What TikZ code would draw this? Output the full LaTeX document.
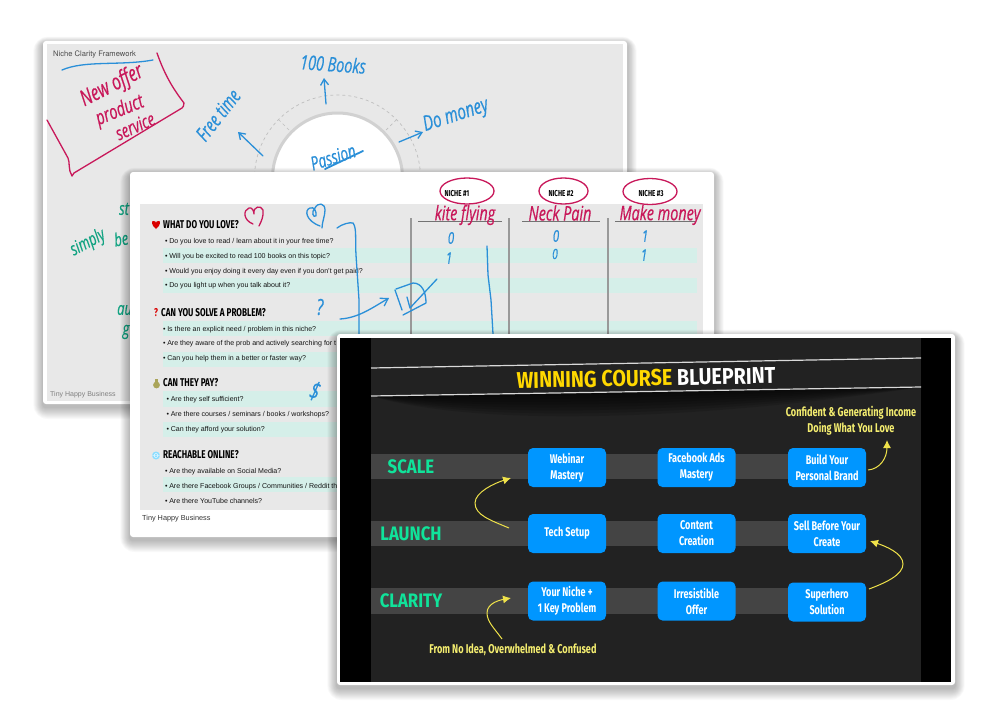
\documentclass[tikz,border=0pt]{standalone}
\usepackage{fontspec}
\usetikzlibrary{arrows.meta}
\setmainfont{Latin Modern Roman}
\newfontfamily\body{Liberation Sans}
\newfontfamily\cond[FakeStretch=0.72]{Fira Sans}
\newfontfamily\wide[FakeStretch=0.86]{Fira Sans}
\newfontfamily\handf[FakeStretch=0.72,FakeBold=0.5]{Open Sans}
\definecolor{penblue}{HTML}{2A8FD8}
\definecolor{penred}{HTML}{C8185A}
\definecolor{pengreen}{HTML}{12A382}
\definecolor{sheet}{HTML}{E8E8E8}
\definecolor{tealrow}{HTML}{D5EFE9}
\definecolor{slide}{HTML}{222222}
\definecolor{bandgrey}{HTML}{444444}
\definecolor{stepblue}{HTML}{0096FF}
\definecolor{levelgreen}{HTML}{10E39A}
\definecolor{noteyellow}{HTML}{F5EE70}
\definecolor{arrowyellow}{HTML}{EFE24A}
\definecolor{titleyellow}{HTML}{FFD800}
\newcommand{\softshadow}[4]{%
  \foreach \s in {1,...,12}{
    \fill[black,opacity=.022,rounded corners={\s+2}] ({#1-\s*.8},{#2-\s*.6+3}) rectangle ({#3+\s*.8},{#4+\s+3});
  }}
\newcommand{\qrow}[3]{\node[qtext] (q#2) at (#1,#2+.8) {•\kern1.6pt #3};}
\tikzset{
  x=1pt,y=-1pt,
  card/.style={fill=white,rounded corners=3},
  qtext/.style={anchor=west,inner sep=0,font=\body\fontsize{7.05}{8}\selectfont,text=black!92},
  head/.style={anchor=west,inner sep=0,font=\cond\bfseries\fontsize{11.3}{12}\selectfont,text=black},
  hand/.style={inner sep=0,font=\handf\itshape\fontsize{#1}{#1}\selectfont},
  hand/.default=18,
  ink/.style={line width=1.3,line cap=round,line join=round},
  blueink/.style={ink,draw=penblue},
  redink/.style={ink,draw=penred},
  stepbox/.style={fill=stepblue,rounded corners=5,minimum width=78,minimum height=39,inner sep=0,text=white,align=center,font=\cond\bfseries\fontsize{12.6}{16}\selectfont},
  level/.style={inner sep=0,text=levelgreen,font=\wide\bfseries\fontsize{19.5}{19}\selectfont},
  note/.style={inner sep=0,text=noteyellow,align=center,font=\cond\bfseries\fontsize{12.7}{16}\selectfont},
  yarrow/.style={draw=arrowyellow,line width=1,-{Latex[length=8,width=8]}},
  nichelabel/.style={inner sep=0,font=\cond\bfseries\fontsize{8.6}{9}\selectfont},
  column/.style={draw=black!40,line width=1.4},
  rule/.style={draw=black!55,line width=1},
}
\begin{document}
\begin{tikzpicture}
\useasboundingbox (0,0) rectangle (1000,709);
\fill[white] (0,0) rectangle (1000,709);

% ---------- first sheet
\softshadow{43}{41}{627}{404}
\fill[card] (43,41) rectangle (627,404);
\fill[sheet] (47,44) rectangle (623,401);
\node[anchor=west,inner sep=0,font=\fontspec{TeX Gyre Heros}\fontsize{7.6}{8}\selectfont,text=black!70] (fwtitle) at (53,54) {Niche Clarity Framework};
\node[anchor=west,inner sep=0,font=\body\fontsize{7}{8}\selectfont,text=black!50] (fwfoot) at (50,395) {Tiny Happy Business};
\draw[black!25,dashed,line width=.7] (337.5,178) circle (83);
\draw[black!25,dashed,line width=.7] (289,130) -- (278,119) (386,130) -- (397,119);
\fill[white,draw=black!18,line width=3] (337.5,178) circle (65);
\draw[blueink] (62,70) .. controls (85,60) and (120,66) .. (153,60);
\draw[penred,ink,line width=1.3] (157,53) .. controls (163,70) and (170,85) .. (184,103) .. controls (184,106) and (183,107) .. (182,108) -- (74,173) -- (72,176) .. controls (68,170) and (70,162) .. (68,158) -- (47,120);
\node[hand=22,text=penred,rotate=27] (h1) at (112,86) {New offer};
\node[hand=20,text=penred,rotate=22] (h2) at (120,111) {product};
\node[hand=19,text=penred,rotate=24] (h3) at (135,126) {service};
\node[hand=20,text=penblue,rotate=52] (h4) at (218,115) {Free time};
\node[hand=20,text=penblue,rotate=-4] (h5) at (333,64) {100 Books};
\node[hand=21,text=penblue,rotate=18] (h6) at (456,116) {Do money};
\node[hand=19,text=penblue,rotate=18] (h7) at (333,157) {Passion};
\draw[penblue,line width=1.8,line cap=round] (325,169) -- (363,151);
\coordinate (a1s) at (263,156); \coordinate (a1e) at (238,132);
\coordinate (a2s) at (326,104); \coordinate (a2e) at (324,78);
\coordinate (a3s) at (399,142); \coordinate (a3e) at (423,132);
\draw[blueink,-{Straight Barb[length=6,width=8]}] (a1s) -- (a1e);
\draw[blueink,-{Straight Barb[length=6,width=8]}] (a2s) -- (a2e);
\draw[blueink,-{Straight Barb[length=6,width=8]}] (a3s) -- (a3e);
\node[hand=18,text=pengreen,rotate=28] (g1) at (88,243) {simply};
\node[hand=18,text=pengreen,anchor=west,rotate=10] (g2) at (114,240) {be};
\node[hand=18,text=pengreen] (g3) at (124,209) {st};
\node[hand=18,text=pengreen,anchor=west] (g4) at (117,310) {au};
\node[hand=18,text=pengreen] (g5) at (126,332) {g};

% ---------- second sheet
\softshadow{130}{172}{714}{537}
\fill[card] (130,172) rectangle (714,537);
\fill[sheet] (140,204) rectangle (703,510);
\foreach \a/\b in {248/263,278/293,321/336,352/367,391/407,422/437,477/492}{
  \fill[tealrow] (163,\a) rectangle (697,\b);
}
\foreach \c in {411,509,608}{ \draw[column] (\c,218) -- (\c,340); }
\draw[rule] (418,221) -- (502,221);
\draw[rule] (522,221) -- (600,221);
\draw[rule] (615,221) -- (695,221);
\node[nichelabel] (n1) at (457,194) {NICHE \#1};
\node[nichelabel] (n2) at (561,194) {NICHE \#2};
\node[nichelabel] (n3) at (651,194) {NICHE \#3};
\draw[redink] (467,191) ellipse (27 and 13);
\draw[redink] (563.5,191) ellipse (24.5 and 13);
\draw[redink] (650,191.5) ellipse (27 and 13);
\node[hand=20,text=penred] (k1) at (465,215) {kite flying};
\node[hand=20,text=penred] (k2) at (560,213) {Neck Pain};
\node[hand=20,text=penred] (k3) at (660,215) {Make money};

\fill[red!85!black] (156,229) .. controls (151,225) and (151.5,221) .. (153,221) .. controls (155,220.5) and (156,222) .. (156,223) .. controls (156,222) and (157,220.5) .. (159,221) .. controls (160.5,221) and (161,225) .. (156,229) -- cycle;
\node[head] (s1) at (163,225) {WHAT DO YOU LOVE?};
\qrow{165}{241}{Do you love to read / learn about it in your free time?}
\qrow{165}{256}{Will you be excited to read 100 books on this topic?}
\qrow{165}{271}{Would you enjoy doing it every day even if you don’t get paid?}
\qrow{165}{285}{Do you light up when you talk about it?}
\node[head,text=red!85!black] (s2q) at (154,313) {?};
\node[head] (s2) at (161,313) {CAN YOU SOLVE A PROBLEM?};
\qrow{163}{329}{Is there an explicit need / problem in this niche?}
\qrow{163}{343}{Are they aware of the prob and actively searching for t}
\qrow{163}{358}{Can you help them in a better or faster way?}
\fill[yellow!55!black!85] (156.5,385) circle (3.4);
\fill[yellow!55!black!85] (155,378.5) rectangle (158,382);
\node[head] (s3) at (163,383) {CAN THEY PAY?};
\qrow{166.5}{399}{Are they self sufficient?}
\qrow{166.5}{414}{Are there courses / seminars / books / workshops?}
\qrow{166.5}{429}{Can they afford your solution?}
\fill[blue!30!cyan!45] (156,455.5) circle (4);
\draw[white,line width=.4] (156,455.5) circle (2) (152,455.5) -- (160,455.5);
\node[head] (s4) at (163,455) {REACHABLE ONLINE?};
\qrow{165}{471}{Are they available on Social Media?}
\qrow{165}{486}{Are there Facebook Groups / Communities / Reddit th}
\qrow{165}{500}{Are there YouTube channels?}
\node[anchor=west,inner sep=0,font=\body\fontsize{7.3}{8}\selectfont,text=black!80] (foot2) at (142,519) {Tiny Happy Business};

% ink on second sheet
\draw[redink] (253,224) .. controls (243,220) and (243,210) .. (249,208) .. controls (252,207) and (254,211) .. (254,214) .. controls (253,206) and (261,205) .. (263,210) .. controls (264,216) and (261,222) .. (259,226);
\draw[blueink] (320,226) .. controls (306,221) and (304,210) .. (310,208) .. controls (314,206) and (317,212) .. (316,216) .. controls (313,218) and (311,212) .. (315,208) .. controls (318,202) and (325,203) .. (325,210) .. controls (325,216) and (322,222) .. (322,228);
\draw[blueink] (337,228) .. controls (342,224) and (350,222) .. (353,223) .. controls (357,228) and (355,240) .. (356,255) -- (359,300) -- (359,336);
\draw[blueink] (487,246) -- (488,275) -- (491,300) -- (493,334);
\node[hand=22,text=penblue] (qm) at (320,307) {?};
\coordinate (a4s) at (340,319); \coordinate (a4e) at (389,298);
\draw[blueink,-{Straight Barb[length=7,width=9]}] (a4s) .. controls (358,318) and (372,308) .. (a4e);
\draw[blueink] (396,289) -- (413,283) .. controls (422,283) and (426,292) .. (426,303) -- (403,315);
\draw[blueink] (395,290) -- (402,310) (407,297) -- (410,308) -- (437,279);
\node[hand=24,text=penblue,rotate=-15] (dl) at (315,391) {\$};
\node[hand=16,text=penblue] (z1) at (451,238) {0};
\node[hand=16,text=penblue] (z2) at (449,258) {1};
\node[hand=16,text=penblue] (z3) at (556,236) {0};
\node[hand=14,text=penblue] (z4) at (555,254) {0};
\node[hand=16,text=penblue] (z5) at (645,236) {1};
\node[hand=16,text=penblue] (z6) at (644,255) {1};

% ---------- slide
\softshadow{337}{334}{955}{685}
\fill[card] (337,334) rectangle (955,685);
\fill[black] (340,338) rectangle (951,682);
\fill[slide] (371,338) rectangle (921,682);
\foreach \d in {4,8,12,16,20,24,28,32}{
  \fill[black,opacity=.13] (371,396) .. controls (480,{396+\d}) and (700,{388+\d}) .. (921,387) -- cycle;
}
\draw[black!15,line width=1.2] (371,368) -- (921,358);
\draw[black!15,line width=1.2] (371,396) -- (921,387);
\foreach \a/\b in {454/479,521/546,588/614}{
  \fill[bandgrey] (371,\a) rectangle (788,\b);
}
\node[inner sep=0,rotate=1.1,font=\wide\bfseries\fontsize{22.9}{23}\selectfont] (title) at (646,378) {\textcolor{titleyellow}{WINNING COURSE} \textcolor{white}{BLUEPRINT}};
\node[level] (lscale) at (411,467) {SCALE};
\node[level] (llaunch) at (411,534) {LAUNCH};
\node[level] (lclarity) at (411,601) {CLARITY};
\node[stepbox] (b11) at (567,467.5) {Webinar\\Mastery};
\node[stepbox] (b12) at (696.5,467.5) {Facebook Ads\\Mastery};
\node[stepbox] (b13) at (827,467.5) {Build Your\\Personal Brand};
\node[stepbox] (b21) at (567,533.5) {\raisebox{-1pt}{Tech Setup}};
\node[stepbox] (b22) at (696.5,533.5) {Content\\Creation};
\node[stepbox] (b23) at (827,533.5) {Sell Before Your\\Create};
\node[stepbox] (b31) at (567,601) {Your Niche +\\1 Key Problem};
\node[stepbox] (b32) at (696.5,601) {Irresistible\\Offer};
\node[stepbox] (b33) at (827,602) {Superhero\\Solution};
\node[note] (top) at (851,420.5) {Confident \& Generating Income\\Doing What You Love};
\node[note] (bot) at (513,649.5) {From No Idea, Overwhelmed \& Confused};
\coordinate (y1s) at (509,528); \coordinate (y1e) at (511,478);
\coordinate (y2s) at (502,639); \coordinate (y2e) at (511,598);
\coordinate (y3s) at (868,470); \coordinate (y3e) at (887,440);
\coordinate (y4s) at (869,589); \coordinate (y4e) at (870,541);
\draw[yarrow] (y1s) .. controls (490,520) and (475,515) .. (475,503) .. controls (475,492) and (495,483) .. (y1e);
\draw[yarrow] (y2s) .. controls (495,629) and (487,622) .. (487,613) .. controls (487,603) and (500,600) .. (y2e);
\draw[yarrow] (y3s) .. controls (880,469) and (887,458) .. (y3e);
\draw[yarrow] (y4s) .. controls (885,583) and (903,575) .. (903,564) .. controls (903,553) and (885,546) .. (y4e);
\end{tikzpicture}
\end{document}
